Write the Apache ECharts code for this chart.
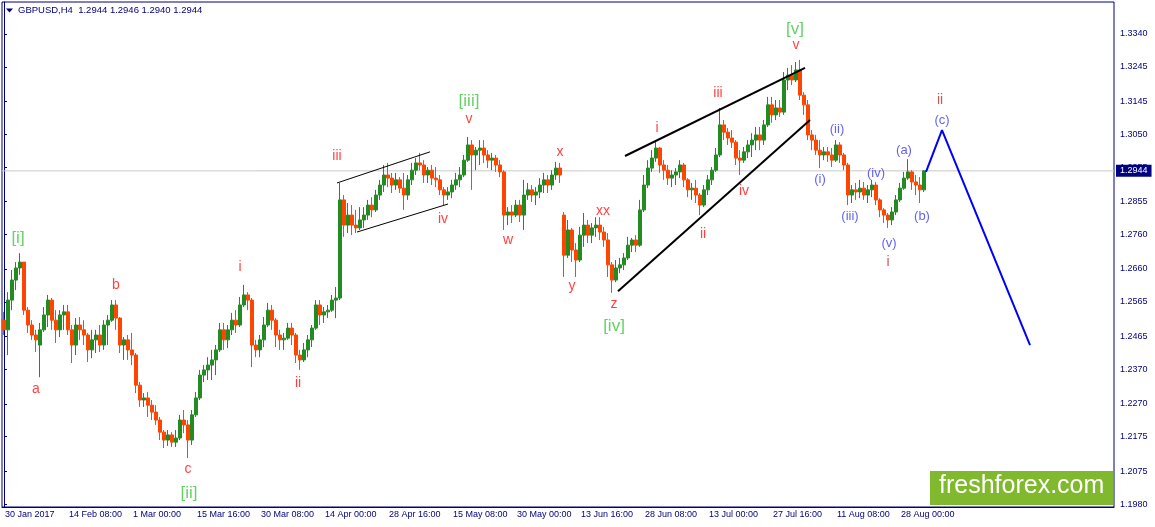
<!DOCTYPE html>
<html><head><meta charset="utf-8">
<script src="https://cdn.jsdelivr.net/npm/echarts@6/dist/echarts.min.js"></script>
<style>html,body{margin:0;padding:0;background:#fff}#c{width:1155px;height:527px}</style>
</head><body><div id="c"></div>
<script>
// ---- data ----
const symbolName = 'GBPUSD,H4';
const lastBar = [1.2944, 1.2946, 1.2940, 1.2944]; // O H L C of last H4 bar
const timeLabels = ['30 Jan 2017','14 Feb 08:00','1 Mar 00:00','15 Mar 16:00','30 Mar 08:00','14 Apr 00:00','28 Apr 16:00','15 May 08:00','30 May 00:00','13 Jun 16:00','28 Jun 08:00','13 Jul 00:00','27 Jul 16:00','11 Aug 08:00','28 Aug 00:00'];
const priceTicks = [1.1980,1.2075,1.2175,1.2270,1.2370,1.2465,1.2565,1.2660,1.2760,1.2855,1.2955,1.3050,1.3145,1.3245,1.3340];
// each candle = 4 H4 bars : [open, close, low, high]
const candles = [
[1.2512,1.2484,1.2469,1.2536],[1.2484,1.2570,1.2411,1.2593],[1.2570,1.2628,1.2541,1.2657],[1.2628,1.2663,1.2599,1.2680],[1.2663,1.2680,1.2643,1.2706],
[1.2680,1.2541,1.2527,1.2680],[1.2541,1.2498,1.2475,1.2550],[1.2498,1.2469,1.2455,1.2512],[1.2469,1.2455,1.2420,1.2484],[1.2440,1.2484,1.2347,1.2504],
[1.2484,1.2527,1.2478,1.2550],[1.2527,1.2570,1.2492,1.2585],[1.2570,1.2512,1.2484,1.2576],[1.2512,1.2484,1.2446,1.2541],[1.2484,1.2527,1.2463,1.2541],
[1.2527,1.2536,1.2484,1.2556],[1.2536,1.2484,1.2469,1.2556],[1.2484,1.2440,1.2388,1.2498],[1.2440,1.2498,1.2411,1.2518],[1.2498,1.2484,1.2455,1.2521],
[1.2484,1.2469,1.2440,1.2512],[1.2469,1.2426,1.2391,1.2475],[1.2426,1.2455,1.2402,1.2484],[1.2455,1.2469,1.2417,1.2484],[1.2469,1.2440,1.2420,1.2498],
[1.2440,1.2498,1.2426,1.2512],[1.2498,1.2512,1.2440,1.2527],[1.2512,1.2556,1.2507,1.2570],[1.2556,1.2518,1.2484,1.2570],[1.2518,1.2440,1.2417,1.2521],
[1.2440,1.2455,1.2397,1.2463],[1.2455,1.2426,1.2397,1.2469],[1.2426,1.2411,1.2382,1.2475],[1.2411,1.2324,1.2301,1.2417],[1.2324,1.2281,1.2261,1.2333],
[1.2281,1.2287,1.2261,1.2301],[1.2287,1.2266,1.2232,1.2304],[1.2266,1.2246,1.2223,1.2281],[1.2246,1.2223,1.2209,1.2266],[1.2223,1.2188,1.2165,1.2232],
[1.2188,1.2165,1.2142,1.2194],[1.2165,1.2180,1.2148,1.2194],[1.2180,1.2159,1.2145,1.2188],[1.2159,1.2171,1.2145,1.2194],[1.2171,1.2223,1.2165,1.2238],
[1.2223,1.2209,1.2185,1.2252],[1.2209,1.2165,1.2113,1.2223],[1.2165,1.2238,1.2151,1.2252],[1.2238,1.2287,1.2232,1.2304],[1.2287,1.2353,1.2281,1.2368],
[1.2353,1.2368,1.2333,1.2382],[1.2368,1.2382,1.2339,1.2405],[1.2382,1.2397,1.2339,1.2426],[1.2397,1.2426,1.2353,1.2440],[1.2426,1.2484,1.2420,1.2504],
[1.2484,1.2455,1.2426,1.2504],[1.2455,1.2484,1.2431,1.2498],[1.2484,1.2512,1.2469,1.2533],[1.2512,1.2498,1.2475,1.2541],[1.2498,1.2556,1.2492,1.2579],
[1.2556,1.2585,1.2550,1.2614],[1.2585,1.2570,1.2541,1.2593],[1.2570,1.2440,1.2376,1.2576],[1.2440,1.2426,1.2405,1.2455],[1.2426,1.2455,1.2405,1.2469],
[1.2455,1.2498,1.2434,1.2521],[1.2498,1.2541,1.2492,1.2562],[1.2541,1.2512,1.2484,1.2556],[1.2512,1.2469,1.2434,1.2518],[1.2469,1.2455,1.2426,1.2484],
[1.2455,1.2460,1.2426,1.2475],[1.2460,1.2489,1.2455,1.2504],[1.2489,1.2469,1.2440,1.2504],[1.2469,1.2411,1.2388,1.2475],[1.2411,1.2397,1.2368,1.2426],
[1.2397,1.2426,1.2391,1.2446],[1.2426,1.2455,1.2405,1.2469],[1.2455,1.2489,1.2434,1.2498],[1.2489,1.2556,1.2484,1.2570],[1.2556,1.2527,1.2498,1.2570],
[1.2527,1.2536,1.2504,1.2550],[1.2536,1.2541,1.2518,1.2556],[1.2541,1.2570,1.2536,1.2585],[1.2570,1.2576,1.2518,1.2608],[1.2576,1.2860,1.2570,1.2909],
[1.2860,1.2787,1.2753,1.2874],[1.2787,1.2816,1.2764,1.2851],[1.2816,1.2787,1.2758,1.2845],[1.2787,1.2779,1.2764,1.2831],[1.2779,1.2802,1.2773,1.2839],
[1.2802,1.2816,1.2779,1.2839],[1.2816,1.2845,1.2802,1.2860],[1.2845,1.2831,1.2810,1.2868],[1.2831,1.2874,1.2825,1.2889],[1.2874,1.2903,1.2860,1.2918],
[1.2903,1.2932,1.2883,1.2961],[1.2932,1.2923,1.2897,1.2967],[1.2923,1.2903,1.2880,1.2938],[1.2903,1.2918,1.2889,1.2938],[1.2918,1.2894,1.2880,1.2926],
[1.2894,1.2874,1.2831,1.2938],[1.2874,1.2918,1.2860,1.2932],[1.2918,1.2946,1.2903,1.2967],[1.2946,1.2967,1.2932,1.2981],[1.2967,1.2961,1.2946,1.2996],
[1.2961,1.2932,1.2909,1.2975],[1.2932,1.2946,1.2909,1.2955],[1.2946,1.2923,1.2903,1.2961],[1.2923,1.2918,1.2897,1.2955],[1.2918,1.2889,1.2874,1.2932],
[1.2889,1.2874,1.2845,1.2897],[1.2874,1.2883,1.2860,1.2897],[1.2883,1.2903,1.2865,1.2918],[1.2903,1.2918,1.2889,1.2938],[1.2918,1.2932,1.2897,1.2955],
[1.2932,1.2975,1.2926,1.2990],[1.2975,1.3019,1.2970,1.3042],[1.3019,1.2990,1.2889,1.3033],[1.2990,1.3004,1.2946,1.3013],[1.3004,1.3010,1.2961,1.3033],
[1.3010,1.2990,1.2967,1.3033],[1.2990,1.2975,1.2952,1.3004],[1.2975,1.2981,1.2946,1.2996],[1.2981,1.2961,1.2941,1.2990],[1.2961,1.2941,1.2926,1.2975],
[1.2941,1.2816,1.2773,1.2946],[1.2816,1.2825,1.2787,1.2839],[1.2825,1.2816,1.2793,1.2845],[1.2816,1.2845,1.2810,1.2860],[1.2845,1.2816,1.2796,1.2860],
[1.2816,1.2874,1.2773,1.2918],[1.2874,1.2889,1.2860,1.2909],[1.2889,1.2874,1.2854,1.2903],[1.2874,1.2883,1.2845,1.2897],[1.2883,1.2903,1.2865,1.2923],
[1.2903,1.2918,1.2880,1.2938],[1.2918,1.2903,1.2880,1.2932],[1.2903,1.2932,1.2889,1.2946],[1.2932,1.2952,1.2918,1.2970],[1.2952,1.2932,1.2909,1.2967],
[1.2816,1.2700,1.2637,1.2825],[1.2700,1.2773,1.2692,1.2802],[1.2773,1.2715,1.2680,1.2779],[1.2715,1.2686,1.2637,1.2735],[1.2686,1.2758,1.2680,1.2782],
[1.2758,1.2787,1.2724,1.2822],[1.2787,1.2758,1.2735,1.2802],[1.2758,1.2779,1.2735,1.2793],[1.2779,1.2787,1.2753,1.2810],[1.2787,1.2767,1.2744,1.2810],
[1.2767,1.2744,1.2724,1.2782],[1.2744,1.2672,1.2637,1.2764],[1.2672,1.2628,1.2591,1.2680],[1.2628,1.2663,1.2622,1.2686],[1.2663,1.2672,1.2648,1.2692],
[1.2672,1.2692,1.2657,1.2706],[1.2692,1.2729,1.2686,1.2753],[1.2729,1.2744,1.2709,1.2750],[1.2744,1.2729,1.2709,1.2758],[1.2729,1.2831,1.2724,1.2860],
[1.2831,1.2903,1.2825,1.2932],[1.2903,1.2952,1.2894,1.2975],[1.2952,1.2981,1.2941,1.3004],[1.2981,1.3010,1.2970,1.3033],[1.3010,1.2961,1.2938,1.3013],
[1.2961,1.2946,1.2918,1.2975],[1.2946,1.2923,1.2903,1.2961],[1.2923,1.2932,1.2897,1.2946],[1.2932,1.2941,1.2903,1.2952],[1.2941,1.2961,1.2923,1.2975],
[1.2961,1.2918,1.2897,1.2967],[1.2918,1.2889,1.2868,1.2923],[1.2889,1.2894,1.2860,1.2909],[1.2894,1.2874,1.2851,1.2918],[1.2874,1.2845,1.2816,1.2880],
[1.2845,1.2889,1.2839,1.2903],[1.2889,1.2918,1.2874,1.2932],[1.2918,1.2946,1.2903,1.2955],[1.2946,1.2990,1.2941,1.3010],[1.2990,1.3077,1.2984,1.3126],
[1.3077,1.3056,1.3033,1.3091],[1.3056,1.3039,1.3019,1.3068],[1.3039,1.3027,1.3010,1.3062],[1.3027,1.2981,1.2961,1.3033],[1.2981,1.2975,1.2932,1.3004],
[1.2975,1.2999,1.2967,1.3013],[1.2999,1.3019,1.2981,1.3033],[1.3019,1.3033,1.2984,1.3053],[1.3033,1.3048,1.3004,1.3071],[1.3048,1.3033,1.3004,1.3071],
[1.3033,1.3077,1.3019,1.3091],[1.3077,1.3135,1.3071,1.3158],[1.3135,1.3106,1.3083,1.3158],[1.3106,1.3126,1.3091,1.3149],[1.3126,1.3114,1.3100,1.3149],
[1.3114,1.3207,1.3106,1.3230],[1.3207,1.3221,1.3178,1.3242],[1.3221,1.3207,1.3192,1.3250],[1.3207,1.3236,1.3201,1.3259],[1.3236,1.3163,1.3149,1.3265],
[1.3163,1.3135,1.3106,1.3172],[1.3135,1.3048,1.3033,1.3149],[1.3048,1.3033,1.3004,1.3062],[1.3033,1.3004,1.2990,1.3048],[1.3004,1.2990,1.2952,1.3033],
[1.2990,1.2999,1.2975,1.3013],[1.2999,1.2990,1.2970,1.3013],[1.2990,1.2975,1.2955,1.3010],[1.2975,1.3019,1.2970,1.3033],[1.3019,1.2990,1.2967,1.3027],
[1.2990,1.2961,1.2946,1.2996],[1.2961,1.2874,1.2845,1.2967],[1.2874,1.2889,1.2851,1.2903],[1.2889,1.2883,1.2860,1.2909],[1.2883,1.2894,1.2865,1.2918],
[1.2894,1.2874,1.2860,1.2912],[1.2874,1.2889,1.2851,1.2903],[1.2889,1.2903,1.2868,1.2918],[1.2903,1.2860,1.2845,1.2912],[1.2860,1.2831,1.2810,1.2865],
[1.2831,1.2816,1.2793,1.2836],[1.2816,1.2802,1.2779,1.2822],[1.2802,1.2825,1.2787,1.2839],[1.2825,1.2860,1.2816,1.2874],[1.2860,1.2894,1.2854,1.2909],
[1.2894,1.2923,1.2889,1.2941],[1.2923,1.2941,1.2918,1.2978],[1.2941,1.2912,1.2889,1.2946],[1.2912,1.2903,1.2874,1.2932],[1.2903,1.2889,1.2851,1.2926],
[1.2889,1.2944,1.2883,1.2946]
];
// wave labels: [text, candle index, price]
const wavePrimary = [['[i]',3.5,1.2750],['[ii]',46.25,1.2012],['[iii]',116.25,1.3146],['[iv]',152.5,1.2495],['[v]',197.75,1.3354]];
const waveMinor = [['a',8,1.2313],['b',28,1.2614],['c',46,1.2081],['i',59,1.2666],['ii',73.5,1.2330],['iii',83.25,1.2987],['iv',109.75,1.2805],['v',116.25,1.3094],
  ['w',126,1.2744],['x',139,1.2999],['y',142,1.2611],['xx',149.75,1.2828],['z',152.5,1.2559],['i',163.25,1.3068],['ii',174.75,1.2761],['iii',178.5,1.3169],['iv',185,1.2886],['v',198,1.3308]];
const waveNew = [['ii',234,1.3149],['i',221,1.2680]];
const waveMinute = [['(i)',204,1.2918],['(ii)',208.25,1.3065],['(iii)',211.5,1.2813],['(iv)',218,1.2938],['(v)',221.25,1.2735],['(a)',225,1.3004],['(b)',229.5,1.2813],['(c)',234.5,1.3091]];
// trend lines: [[index, price], [index, price]]
const channelUpper = [[83.25,1.2909],[106.5,1.2999]];
const channelLower = [[88.25,1.2767],[111,1.2848]];
const wedgeUpper = [[155.25,1.2987],[200.25,1.3242]];
const wedgeLower = [[153.5,1.2596],[201.5,1.3091]];
const forecastPath = [[230.5,1.2941],[234.5,1.3062],[256.5,1.2440]];

// ---- chart ----
const slotCount = 278, barsPerLabel = 16;
const categories = Array.from({length: slotCount}, (_, i) => (i % barsPerLabel === 0 && timeLabels[i / barsPerLabel]) ? timeLabels[i / barsPerLabel] : '');
const NAVY = '#000080', FONT = 'Liberation Sans';
const isTick = (idx) => idx % barsPerLabel === 0 && idx / barsPerLabel < timeLabels.length;
const lastClose = lastBar[3];

function labelSeries(list, color, size) {
  return {
    type: 'scatter', xAxisIndex: 1, symbolSize: 0, silent: true, z: 6,
    data: list.map(d => ({ value: [d[1], d[2]], name: d[0] })),
    label: { show: true, position: 'inside', formatter: p => p.name, color: color, fontSize: size, fontFamily: 'Arial, Liberation Sans' }
  };
}
function lineSeries(pts, color, width) {
  return { type: 'line', xAxisIndex: 1, data: pts, symbol: 'none', silent: true, z: 4,
    lineStyle: { color: color, width: width }, animation: false };
}

const chart = echarts.init(document.getElementById('c'), null, { renderer: 'canvas' });
chart.setOption({
  animation: false,
  backgroundColor: '#ffffff',
  title: {
    text: symbolName + '  ' + lastBar.map(v => v.toFixed(4)).join(' '),
    left: 18, top: 5, padding: 0,
    textStyle: { color: NAVY, fontSize: 9.5, fontWeight: 'normal', fontFamily: FONT }
  },
  graphic: [
    { type: 'polygon', shape: { points: [[6, 8.5], [13, 8.5], [9.5, 12.5]] }, style: { fill: NAVY } },
    { type: 'rect', left: 930, top: 471, shape: { width: 183, height: 34 }, style: { fill: '#80B82E' }, z: 10 },
    { type: 'text', left: 939, top: 474, z: 11, style: { text: 'freshforex.com', fill: '#ffffff', font: '25px "Liberation Sans", Arial' } }
  ],
  grid: { left: 2, right: 41, top: 2, bottom: 20, show: true, borderColor: NAVY, borderWidth: 1, containLabel: false, outerBoundsMode: 'none' },
  xAxis: [{
    type: 'category', data: categories, boundaryGap: true,
    axisLine: { lineStyle: { color: NAVY, width: 1 } },
    axisTick: { alignWithLabel: true, interval: isTick, length: 4, lineStyle: { color: NAVY } },
    axisLabel: { interval: isTick, align: 'left', margin: 3, padding: [0, 0, 0, 1], color: NAVY, fontSize: 9, fontFamily: FONT, hideOverlap: false },
    splitLine: { show: false }
  }, {
    type: 'value', min: -0.5, max: slotCount - 0.5, show: false
  }],
  yAxis: {
    type: 'value', position: 'right', min: 1.19714, max: 1.34326, scale: true,
    axisLine: { show: true, lineStyle: { color: NAVY, width: 1 } },
    axisTick: { show: true, customValues: priceTicks, length: 3, lineStyle: { color: NAVY } },
    axisLabel: { customValues: priceTicks, formatter: v => v.toFixed(4), color: NAVY, fontSize: 9, fontFamily: FONT, margin: 6 },
    splitLine: { show: false }
  },
  series: [
    {
      type: 'line', xAxisIndex: 1, symbol: 'none', silent: true, z: 2, clip: false,
      data: [[-0.5, lastClose], [slotCount - 0.5, lastClose]],
      lineStyle: { color: '#C8C8C8', width: 1 },
      endLabel: { show: true, distance: 2, formatter: () => lastClose.toFixed(4),
        backgroundColor: NAVY, color: '#ffffff', fontSize: 9, fontFamily: FONT, padding: [2, 4, 1, 4] }
    },
    {
      type: 'candlestick', data: candles, barWidth: 3, z: 3,
      itemStyle: { color: '#228B22', color0: '#FF4500', borderColor: '#228B22', borderColor0: '#FF4500', borderWidth: 1 }
    },
    lineSeries(channelUpper, '#000000', 1),
    lineSeries(channelLower, '#000000', 1),
    lineSeries(wedgeUpper, '#000000', 2),
    lineSeries(wedgeLower, '#000000', 2),
    lineSeries(forecastPath, '#0000FF', 2),
    labelSeries(wavePrimary, '#3CC83C', 17),
    labelSeries(waveMinor, '#FF1010', 14),
    labelSeries(waveNew, '#B8312F', 14),
    labelSeries(waveMinute, '#3838F0', 13)
  ]
});
</script></body></html>
